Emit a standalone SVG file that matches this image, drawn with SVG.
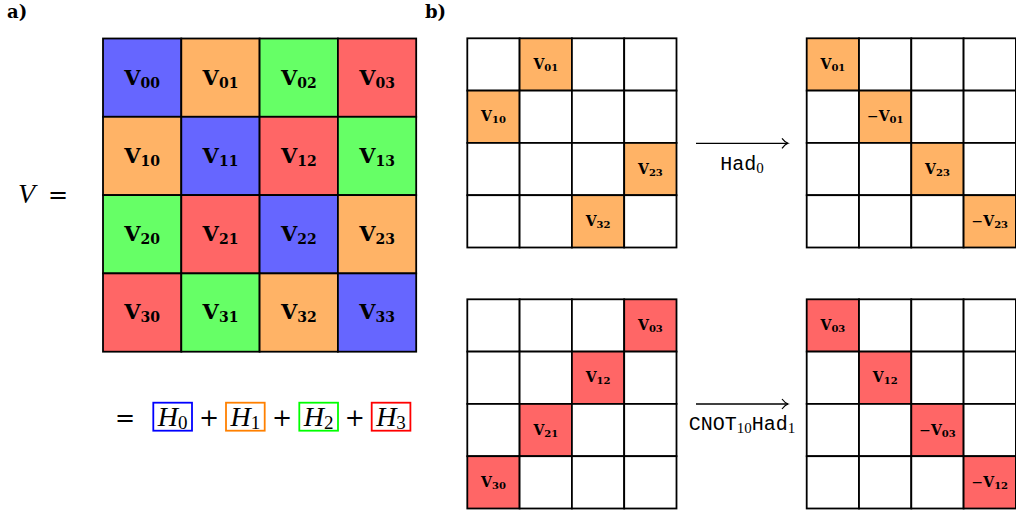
<svg xmlns="http://www.w3.org/2000/svg" width="1016" height="514" viewBox="0 0 1016 514">
<style>
.b{fill:#6666ff}.o{fill:#ffb366}.g{fill:#66ff66}.r{fill:#ff6666}.w{fill:#ffffff}
.cell{stroke:#000;stroke-width:1.8}
.big{font-family:"DejaVu Serif",serif;font-weight:bold;font-size:21px;text-anchor:middle;fill:#000}
.big .s{font-size:14px}
.sm{font-family:"DejaVu Serif",serif;font-weight:bold;font-size:14px;text-anchor:middle;fill:#000}
.sm .s{font-size:10px}
.sm .m{font-weight:normal}
.it{font-family:"Liberation Serif",serif;font-style:italic;font-size:28px;fill:#000}
.it .s{font-style:normal;font-size:19px}
.op{font-family:"DejaVu Serif",serif;font-size:24px;fill:#000;text-anchor:middle}
.tt{font-family:"Liberation Mono","Courier New",monospace;font-size:20px;fill:#000;text-anchor:middle}
.tt .s{font-family:"Liberation Serif",serif;font-size:15px}
.lab{font-family:"DejaVu Serif",serif;font-weight:bold;font-size:18px;fill:#000}
.conn{stroke:#000;stroke-width:1.3;fill:none}
.hb{fill:none;stroke-width:1.8}
</style>
<defs>
<marker id="ah" markerWidth="10" markerHeight="12" refX="8" refY="6" orient="auto" markerUnits="userSpaceOnUse">
<path d="M2,1 Q5,5 8,6 Q5,7 2,11" fill="none" stroke="#000" stroke-width="1.2"/>
</marker>
</defs>
<rect width="1016" height="514" fill="#fff"/>

<g id="label-a"><text class="lab" x="7" y="18">a)</text></g>
<g id="label-b"><text class="lab" x="425" y="18">b)</text></g>

<g id="V-eq"><text class="it" x="18" y="203">V</text><text class="op" x="58" y="203">=</text></g>

<g id="matrix-V">
<rect class="cell b" x="103" y="38.5" width="78.3" height="78.3"/>
<rect class="cell o" x="181.3" y="38.5" width="78.3" height="78.3"/>
<rect class="cell g" x="259.6" y="38.5" width="78.3" height="78.3"/>
<rect class="cell r" x="337.9" y="38.5" width="78.3" height="78.3"/>
<rect class="cell o" x="103" y="116.8" width="78.3" height="78.3"/>
<rect class="cell b" x="181.3" y="116.8" width="78.3" height="78.3"/>
<rect class="cell r" x="259.6" y="116.8" width="78.3" height="78.3"/>
<rect class="cell g" x="337.9" y="116.8" width="78.3" height="78.3"/>
<rect class="cell g" x="103" y="195.1" width="78.3" height="78.3"/>
<rect class="cell r" x="181.3" y="195.1" width="78.3" height="78.3"/>
<rect class="cell b" x="259.6" y="195.1" width="78.3" height="78.3"/>
<rect class="cell o" x="337.9" y="195.1" width="78.3" height="78.3"/>
<rect class="cell r" x="103" y="273.4" width="78.3" height="78.3"/>
<rect class="cell g" x="181.3" y="273.4" width="78.3" height="78.3"/>
<rect class="cell o" x="259.6" y="273.4" width="78.3" height="78.3"/>
<rect class="cell b" x="337.9" y="273.4" width="78.3" height="78.3"/>
<text class="big" x="142.2" y="84.5">V<tspan class="s" dy="3">00</tspan></text>
<text class="big" x="220.5" y="84.5">V<tspan class="s" dy="3">01</tspan></text>
<text class="big" x="298.8" y="84.5">V<tspan class="s" dy="3">02</tspan></text>
<text class="big" x="377.1" y="84.5">V<tspan class="s" dy="3">03</tspan></text>
<text class="big" x="142.2" y="162.8">V<tspan class="s" dy="3">10</tspan></text>
<text class="big" x="220.5" y="162.8">V<tspan class="s" dy="3">11</tspan></text>
<text class="big" x="298.8" y="162.8">V<tspan class="s" dy="3">12</tspan></text>
<text class="big" x="377.1" y="162.8">V<tspan class="s" dy="3">13</tspan></text>
<text class="big" x="142.2" y="241.1">V<tspan class="s" dy="3">20</tspan></text>
<text class="big" x="220.5" y="241.1">V<tspan class="s" dy="3">21</tspan></text>
<text class="big" x="298.8" y="241.1">V<tspan class="s" dy="3">22</tspan></text>
<text class="big" x="377.1" y="241.1">V<tspan class="s" dy="3">23</tspan></text>
<text class="big" x="142.2" y="319.4">V<tspan class="s" dy="3">30</tspan></text>
<text class="big" x="220.5" y="319.4">V<tspan class="s" dy="3">31</tspan></text>
<text class="big" x="298.8" y="319.4">V<tspan class="s" dy="3">32</tspan></text>
<text class="big" x="377.1" y="319.4">V<tspan class="s" dy="3">33</tspan></text>
</g>

<g id="sum">
<text class="op" x="125" y="426">=</text>
<rect class="hb" x="153.3" y="402.7" width="38.7" height="28" stroke="#0000ff"/>
<text class="it" x="172.6" y="426" text-anchor="middle">H<tspan class="s" dy="3">0</tspan></text>
<text class="op" x="209" y="426">+</text>
<rect class="hb" x="226" y="402.7" width="38.7" height="28" stroke="#ff8000"/>
<text class="it" x="245.3" y="426" text-anchor="middle">H<tspan class="s" dy="3">1</tspan></text>
<text class="op" x="282" y="426">+</text>
<rect class="hb" x="299.3" y="402.7" width="38.7" height="28" stroke="#00ff00"/>
<text class="it" x="318.6" y="426" text-anchor="middle">H<tspan class="s" dy="3">2</tspan></text>
<text class="op" x="354.7" y="426">+</text>
<rect class="hb" x="371.7" y="402.7" width="38.7" height="28" stroke="#ff0000"/>
<text class="it" x="391" y="426" text-anchor="middle">H<tspan class="s" dy="3">3</tspan></text>
</g>

<g id="matrix-H1">
<rect class="cell w" x="467.3" y="38.3" width="52.3" height="52.3"/>
<rect class="cell o" x="519.6" y="38.3" width="52.3" height="52.3"/>
<rect class="cell w" x="571.9" y="38.3" width="52.3" height="52.3"/>
<rect class="cell w" x="624.2" y="38.3" width="52.3" height="52.3"/>
<rect class="cell o" x="467.3" y="90.6" width="52.3" height="52.3"/>
<rect class="cell w" x="519.6" y="90.6" width="52.3" height="52.3"/>
<rect class="cell w" x="571.9" y="90.6" width="52.3" height="52.3"/>
<rect class="cell w" x="624.2" y="90.6" width="52.3" height="52.3"/>
<rect class="cell w" x="467.3" y="142.9" width="52.3" height="52.3"/>
<rect class="cell w" x="519.6" y="142.9" width="52.3" height="52.3"/>
<rect class="cell w" x="571.9" y="142.9" width="52.3" height="52.3"/>
<rect class="cell o" x="624.2" y="142.9" width="52.3" height="52.3"/>
<rect class="cell w" x="467.3" y="195.2" width="52.3" height="52.3"/>
<rect class="cell w" x="519.6" y="195.2" width="52.3" height="52.3"/>
<rect class="cell o" x="571.9" y="195.2" width="52.3" height="52.3"/>
<rect class="cell w" x="624.2" y="195.2" width="52.3" height="52.3"/>
<text class="sm" x="545.8" y="69">V<tspan class="s" dy="2">01</tspan></text>
<text class="sm" x="493.5" y="121.3">V<tspan class="s" dy="2">10</tspan></text>
<text class="sm" x="650.4" y="173.6">V<tspan class="s" dy="2">23</tspan></text>
<text class="sm" x="598.1" y="225.9">V<tspan class="s" dy="2">32</tspan></text>
</g>

<g id="matrix-H1-out">
<rect class="cell o" x="806.7" y="38.3" width="52.3" height="52.3"/>
<rect class="cell w" x="859" y="38.3" width="52.3" height="52.3"/>
<rect class="cell w" x="911.3" y="38.3" width="52.3" height="52.3"/>
<rect class="cell w" x="963.6" y="38.3" width="52.3" height="52.3"/>
<rect class="cell w" x="806.7" y="90.6" width="52.3" height="52.3"/>
<rect class="cell o" x="859" y="90.6" width="52.3" height="52.3"/>
<rect class="cell w" x="911.3" y="90.6" width="52.3" height="52.3"/>
<rect class="cell w" x="963.6" y="90.6" width="52.3" height="52.3"/>
<rect class="cell w" x="806.7" y="142.9" width="52.3" height="52.3"/>
<rect class="cell w" x="859" y="142.9" width="52.3" height="52.3"/>
<rect class="cell o" x="911.3" y="142.9" width="52.3" height="52.3"/>
<rect class="cell w" x="963.6" y="142.9" width="52.3" height="52.3"/>
<rect class="cell w" x="806.7" y="195.2" width="52.3" height="52.3"/>
<rect class="cell w" x="859" y="195.2" width="52.3" height="52.3"/>
<rect class="cell w" x="911.3" y="195.2" width="52.3" height="52.3"/>
<rect class="cell o" x="963.6" y="195.2" width="52.3" height="52.3"/>
<text class="sm" x="832.9" y="69">V<tspan class="s" dy="2">01</tspan></text>
<text class="sm" x="885.2" y="121.3"><tspan class="m">−</tspan>V<tspan class="s" dy="2">01</tspan></text>
<text class="sm" x="937.5" y="173.6">V<tspan class="s" dy="2">23</tspan></text>
<text class="sm" x="989.8" y="225.9"><tspan class="m">−</tspan>V<tspan class="s" dy="2">23</tspan></text>
</g>

<g id="matrix-H3">
<rect class="cell w" x="467.3" y="299.3" width="52.3" height="52.3"/>
<rect class="cell w" x="519.6" y="299.3" width="52.3" height="52.3"/>
<rect class="cell w" x="571.9" y="299.3" width="52.3" height="52.3"/>
<rect class="cell r" x="624.2" y="299.3" width="52.3" height="52.3"/>
<rect class="cell w" x="467.3" y="351.6" width="52.3" height="52.3"/>
<rect class="cell w" x="519.6" y="351.6" width="52.3" height="52.3"/>
<rect class="cell r" x="571.9" y="351.6" width="52.3" height="52.3"/>
<rect class="cell w" x="624.2" y="351.6" width="52.3" height="52.3"/>
<rect class="cell w" x="467.3" y="403.9" width="52.3" height="52.3"/>
<rect class="cell r" x="519.6" y="403.9" width="52.3" height="52.3"/>
<rect class="cell w" x="571.9" y="403.9" width="52.3" height="52.3"/>
<rect class="cell w" x="624.2" y="403.9" width="52.3" height="52.3"/>
<rect class="cell r" x="467.3" y="456.2" width="52.3" height="52.3"/>
<rect class="cell w" x="519.6" y="456.2" width="52.3" height="52.3"/>
<rect class="cell w" x="571.9" y="456.2" width="52.3" height="52.3"/>
<rect class="cell w" x="624.2" y="456.2" width="52.3" height="52.3"/>
<text class="sm" x="650.4" y="330">V<tspan class="s" dy="2">03</tspan></text>
<text class="sm" x="598.1" y="382.3">V<tspan class="s" dy="2">12</tspan></text>
<text class="sm" x="545.8" y="434.6">V<tspan class="s" dy="2">21</tspan></text>
<text class="sm" x="493.5" y="486.9">V<tspan class="s" dy="2">30</tspan></text>
</g>

<g id="matrix-H3-out">
<rect class="cell r" x="806.7" y="299.3" width="52.3" height="52.3"/>
<rect class="cell w" x="859" y="299.3" width="52.3" height="52.3"/>
<rect class="cell w" x="911.3" y="299.3" width="52.3" height="52.3"/>
<rect class="cell w" x="963.6" y="299.3" width="52.3" height="52.3"/>
<rect class="cell w" x="806.7" y="351.6" width="52.3" height="52.3"/>
<rect class="cell r" x="859" y="351.6" width="52.3" height="52.3"/>
<rect class="cell w" x="911.3" y="351.6" width="52.3" height="52.3"/>
<rect class="cell w" x="963.6" y="351.6" width="52.3" height="52.3"/>
<rect class="cell w" x="806.7" y="403.9" width="52.3" height="52.3"/>
<rect class="cell w" x="859" y="403.9" width="52.3" height="52.3"/>
<rect class="cell r" x="911.3" y="403.9" width="52.3" height="52.3"/>
<rect class="cell w" x="963.6" y="403.9" width="52.3" height="52.3"/>
<rect class="cell w" x="806.7" y="456.2" width="52.3" height="52.3"/>
<rect class="cell w" x="859" y="456.2" width="52.3" height="52.3"/>
<rect class="cell w" x="911.3" y="456.2" width="52.3" height="52.3"/>
<rect class="cell r" x="963.6" y="456.2" width="52.3" height="52.3"/>
<text class="sm" x="832.9" y="330">V<tspan class="s" dy="2">03</tspan></text>
<text class="sm" x="885.2" y="382.3">V<tspan class="s" dy="2">12</tspan></text>
<text class="sm" x="937.5" y="434.6"><tspan class="m">−</tspan>V<tspan class="s" dy="2">03</tspan></text>
<text class="sm" x="989.8" y="486.9"><tspan class="m">−</tspan>V<tspan class="s" dy="2">12</tspan></text>
</g>

<g id="connectors">
<line class="conn" x1="696" y1="143.3" x2="788" y2="143.3" marker-end="url(#ah)"/>
<line class="conn" x1="696" y1="404" x2="788" y2="404" marker-end="url(#ah)"/>
</g>
<g id="label-had0"><text class="tt" x="742" y="169.5">Had<tspan class="s" dy="3">0</tspan></text></g>
<g id="label-cnot"><text class="tt" x="742" y="430">CNOT<tspan class="s" dy="3">10</tspan><tspan dy="-3">Had</tspan><tspan class="s" dy="3">1</tspan></text></g>
</svg>
